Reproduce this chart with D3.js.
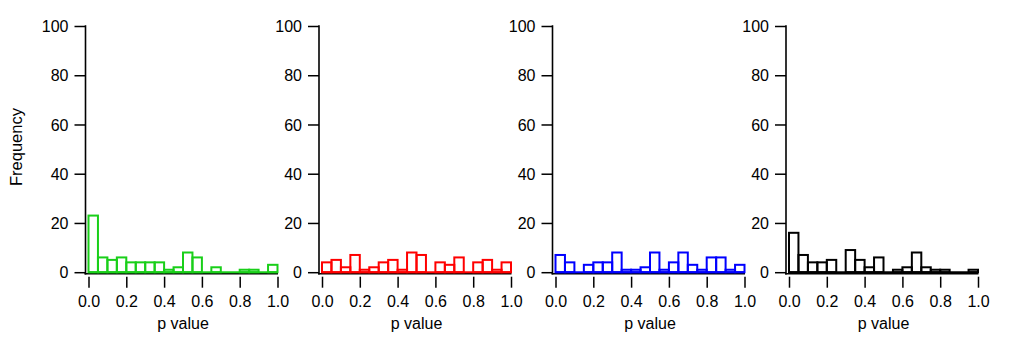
<!DOCTYPE html>
<html>
<head>
<meta charset="utf-8">
<script src="https://cdn.jsdelivr.net/npm/d3@7"></script>
<style>
  html, body { margin: 0; padding: 0; background: #fff; }
  svg { display: block; }
  text { font-family: "Liberation Sans", Arial, Helvetica, sans-serif; fill: #000; }
</style>
</head>
<body>
<svg id="chart" width="1024" height="341"></svg>
<script>
// bin edges: 20 bins of width 0.05 over [0, 1]
const binStarts = [0.00,0.05,0.10,0.15,0.20,0.25,0.30,0.35,0.40,0.45,0.50,0.55,0.60,0.65,0.70,0.75,0.80,0.85,0.90,0.95];
const binWidth = 0.05;

// frequencies per bin
const greenCounts = [23,6,5,6,4,4,4,4,1,2,8,6,0,2,0,0,1,1,0,3];
const redCounts   = [4,5,2,7,1,2,4,5,1,8,7,0,4,3,6,0,4,5,1,4];
const blueCounts  = [7,4,0,3,4,4,8,1,1,2,8,1,4,8,3,1,6,6,1,3];
const blackCounts = [16,7,4,4,5,0,9,5,2,6,0,1,2,8,2,1,1,0,0,1];

const seriesColors = ["#19cf19", "#ff0000", "#0000ff", "#000000"];
const xTicks = [0, 0.2, 0.4, 0.6, 0.8, 1.0];
const yTicks = [0, 20, 40, 60, 80, 100];
const xLabel = "p value";
const yLabel = "Frequency";

const allCounts = [greenCounts, redCounts, blueCounts, blackCounts];

const svg = d3.select("#chart");
const fontSize = 16;

const panelStep = 233.5;
const axis0 = 85.5;
const yTop = 26, yBottom = 272.2;

allCounts.forEach((counts, i) => {
  const ax = axis0 + panelStep * i;
  const x = d3.scaleLinear().domain([0, 1]).range([ax + 3, ax + 192]);
  const y = d3.scaleLinear().domain([0, 100]).range([yBottom, yTop]);
  const g = svg.append("g");
  const col = seriesColors[i];

  // y axis
  const yAxis = d3.axisLeft(y).tickValues(yTicks).tickSize(11).tickPadding(6).tickFormat(d3.format("d"));
  const ya = g.append("g").attr("transform", `translate(${ax},0)`).call(yAxis);
  ya.select(".domain").remove();
  ya.append("line").attr("x1", 0).attr("x2", 0).attr("y1", y(100) - 0.75).attr("y2", yBottom + 2.3)
    .attr("stroke", "#000").attr("stroke-width", 1.6);
  ya.selectAll(".tick line").attr("stroke", "#000").attr("stroke-width", 1.5);
  ya.selectAll(".tick text").attr("font-size", fontSize).attr("font-family", null).attr("dy", "0.35em").attr("fill", "#000");

  // x axis
  const xAxis = d3.axisBottom(x).tickValues(xTicks).tickSize(0).tickPadding(0).tickFormat(d3.format(".1f"));
  const xa = g.append("g").attr("transform", `translate(0,${yBottom + 1.5})`).call(xAxis);
  xa.select(".domain").remove();
  xa.append("line").attr("x1", ax - 1).attr("x2", x(1) + 0.5).attr("y1", 0).attr("y2", 0)
    .attr("stroke", "#000").attr("stroke-width", 1.5);
  xa.selectAll(".tick line").attr("y1", 3).attr("y2", 14).attr("stroke", "#000").attr("stroke-width", 1.5);
  xa.selectAll(".tick text").attr("font-size", fontSize).attr("font-family", null).attr("y", 33.5).attr("dy", 0).attr("fill", "#000");

  // baseline in series colour
  g.append("line").attr("x1", x(0)).attr("x2", x(1)).attr("y1", y(0)).attr("y2", y(0))
    .attr("stroke", col).attr("stroke-width", 2);

  // bars
  g.selectAll("rect.bar").data(counts).enter().append("rect")
    .attr("class", "bar")
    .attr("x", (d, j) => x(binStarts[j]))
    .attr("width", (d, j) => x(binStarts[j] + binWidth) - x(binStarts[j]))
    .attr("y", d => y(d))
    .attr("height", d => y(0) - y(d))
    .attr("fill", "none")
    .attr("stroke", col)
    .attr("stroke-width", 2);

  // x label
  g.append("text").attr("x", (x(0) + x(1)) / 2).attr("y", 329)
    .attr("text-anchor", "middle").attr("font-size", fontSize).text(xLabel);
});

// y label
svg.append("text").attr("transform", "translate(21.5,147) rotate(-90)")
  .attr("text-anchor", "middle").attr("font-size", 16.5).text(yLabel);
</script>
</body>
</html>
